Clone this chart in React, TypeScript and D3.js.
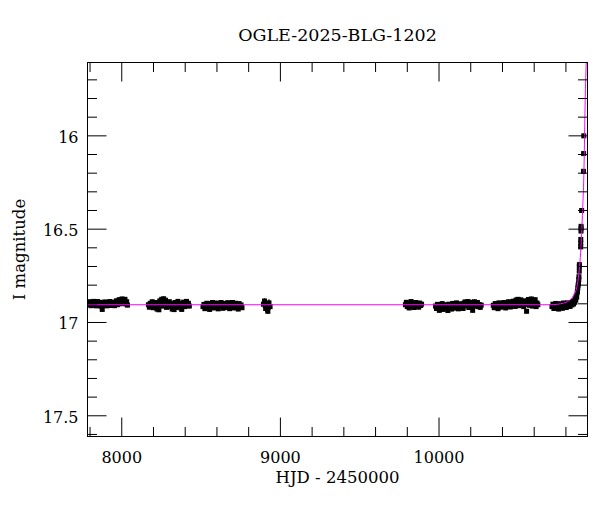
import React from "react";
import * as d3 from "d3";

// ---- data (HJD - 2450000, I mag, error) ----
const season2017: number[][] = [
  [7790,16.897],[7796,16.905],[7801,16.889],[7806,16.91],[7812,16.893],[7818,16.902],[7823,16.887],[7829,16.908],
  [7835,16.896],[7841,16.911],[7847,16.888],[7853,16.9],[7859,16.906],[7865,16.892],[7871,16.913],[7877,16.93],
  [7882,16.899],[7888,16.908],[7894,16.89],[7900,16.903],[7906,16.911],[7912,16.894],[7918,16.904],[7924,16.888],
  [7930,16.909],[7936,16.897],[7942,16.902],[7948,16.891],[7954,16.91],[7960,16.896],[7966,16.884],[7972,16.905],
  [7978,16.893],[7984,16.878],[7990,16.9],[7996,16.886],[8002,16.874],[8008,16.897],[8014,16.882],[8020,16.876],
  [8026,16.901],[8031,16.889],[8036,16.907],
];
const season2018: number[][] = [
  [8168,16.905],[8174,16.918],[8180,16.897],[8186,16.91],[8192,16.889],[8198,16.921],[8204,16.902],[8210,16.914],
  [8216,16.893],[8222,16.928],[8228,16.906],[8234,16.932],[8240,16.884],[8246,16.899],[8252,16.876],[8258,16.912],
  [8264,16.873],[8270,16.903],[8276,16.881],[8282,16.919],[8288,16.895],[8294,16.907],[8300,16.889],[8306,16.916],
  [8312,16.899],[8318,16.928],[8324,16.905],[8330,16.931],[8336,16.893],[8342,16.92],[8348,16.902],[8354,16.887],
  [8360,16.913],[8366,16.897],[8372,16.922],[8378,16.93],[8384,16.903],[8390,16.891],[8396,16.915],[8402,16.9],
  [8408,16.887],[8414,16.91],[8420,16.897],[8426,16.912],
];
const season2019: number[][] = [
  [8512,16.915],[8518,16.903],[8524,16.926],[8530,16.909],[8536,16.897],[8542,16.921],[8548,16.905],[8554,16.93],
  [8560,16.899],[8566,16.914],[8572,16.893],[8578,16.922],[8584,16.906],[8590,16.918],[8596,16.896],[8602,16.911],
  [8608,16.927],[8614,16.901],[8620,16.915],[8626,16.893],[8632,16.909],[8638,16.924],[8644,16.898],[8650,16.913],
  [8656,16.903],[8662,16.92],[8668,16.894],[8674,16.91],[8680,16.926],[8686,16.9],[8692,16.916],[8698,16.893],
  [8704,16.908],[8710,16.922],[8716,16.897],[8722,16.913],[8728,16.905],[8734,16.928],[8740,16.899],[8746,16.915],
  [8752,16.906],[8758,16.921],
];
const season2020: number[][] = [
  [8893,16.902,0.02],[8900,16.885,0.015],[8907,16.925,0.02],[8914,16.91,0.018],[8921,16.94,0.015],[8928,16.895,0.02],[8935,16.915,0.018],
];
const season2022: number[][] = [
  [9788,16.905],[9794,16.892],[9800,16.915],[9806,16.899],[9812,16.922],[9818,16.902],[9824,16.888],[9830,16.911],
  [9836,16.897],[9842,16.92],[9848,16.904],[9854,16.893],[9860,16.914],[9866,16.9],[9872,16.918],[9878,16.896],
  [9884,16.909],[9890,16.902],
];
const season2023: number[][] = [
  [9978,16.912],[9984,16.925],[9990,16.903],[9996,16.918],[10002,16.935],[10008,16.908],[10014,16.921],[10020,16.899],
  [10026,16.93],[10032,16.911],[10038,16.924],[10044,16.905],[10050,16.917],[10056,16.936],[10062,16.902],[10068,16.92],
  [10074,16.909],[10080,16.928],[10086,16.898],[10092,16.915],[10098,16.906],[10104,16.923],[10110,16.895],[10116,16.912],
  [10122,16.927],[10128,16.903],[10134,16.918],[10140,16.9],[10146,16.914],[10152,16.925],[10158,16.897],[10164,16.89],
  [10170,16.911],[10176,16.902],[10182,16.888],[10188,16.92],[10194,16.905],[10200,16.892],[10206,16.916],[10212,16.935],
  [10218,16.9],[10224,16.889],[10230,16.912],[10236,16.898],[10242,16.893],[10248,16.915],[10254,16.904],[10260,16.919],
  [10266,16.907],
];
const season2024: number[][] = [
  [10342,16.908],[10348,16.921],[10354,16.899],[10360,16.914],[10366,16.903],[10372,16.926],[10378,16.895],[10384,16.911],
  [10390,16.918],[10396,16.9],[10402,16.913],[10408,16.893],[10414,16.906],[10420,16.922],[10426,16.897],[10432,16.91],
  [10438,16.889],[10444,16.904],[10450,16.917],[10456,16.895],[10462,16.908],[10468,16.886],[10474,16.901],[10480,16.914],
  [10486,16.88],[10492,16.897],[10498,16.876],[10504,16.91],[10510,16.892],[10516,16.879],[10522,16.905],[10528,16.889],
  [10534,16.915],[10540,16.899],[10546,16.884],[10552,16.94],[10558,16.903],[10564,16.877],[10570,16.908],[10576,16.893],
  [10582,16.874],[10588,16.912],[10594,16.887],[10600,16.901],[10606,16.878],[10612,16.915],[10618,16.896],[10623,16.905],
];
const season2025: number[][] = [
  [10712,16.915],[10718,16.902],[10724,16.925],[10730,16.91],[10736,16.898],[10742,16.921],[10748,16.906],[10754,16.928],
  [10760,16.9],[10766,16.917],[10772,16.908],[10778,16.924],[10784,16.896],[10790,16.913],[10796,16.903],[10802,16.92],
  [10808,16.895],[10814,16.911],[10820,16.899],[10826,16.914],[10832,16.893],[10838,16.906],[10844,16.888],[10848,16.901],
  [10852,16.884],[10856,16.892],[10859,16.872],[10862,16.88],[10865,16.858],[10868,16.864],[10871,16.84],[10873,16.832],
  [10875,16.815],[10877,16.8],[10879,16.79],[10881,16.77],[10882,16.755],[10884,16.725],[10884.5,16.7],[10885,16.69],
  [10893,16.595],[10893.3,16.575],[10893.6,16.555],[10895,16.51],[10895.3,16.495],[10895.6,16.485],[10899,16.4],
  [10910.5,16.19],[10911.5,16.095],[10912.5,16.0],
];

// model light curve
const modelCurve: number[][] = [
  [7784,16.905],[10700,16.905],[10750,16.902],[10785,16.896],[10810,16.888],[10838,16.869],[10855,16.845],
  [10870,16.807],[10878,16.765],[10886,16.7],[10895,16.593],[10905,16.4],[10913.6,16.19],[10917.5,16.0],
  [10921.6,15.8],[10927.7,15.61],[10933,15.4],
];

const xMajorTicks = [8000, 9000, 10000];
const xMinorTicks = [7800, 8200, 8400, 8600, 8800, 9200, 9400, 9600, 9800, 10200, 10400, 10600, 10800];
const yMajorTicks = [16, 16.5, 17, 17.5];
const yMinorTicks = [15.7, 15.8, 15.9, 16.1, 16.2, 16.3, 16.4, 16.6, 16.7, 16.8, 16.9, 17.1, 17.2, 17.3, 17.4, 17.6];

const title = "OGLE-2025-BLG-1202";
const xLabel = "HJD - 2450000";
const yLabel = "I magnitude";

const W = 600, H = 512;
const L = 87.5, R = 587.5, T = 62.5, B = 436.5;
const FONT = "'DejaVu Serif', serif";

export default function App() {
  const x = d3.scaleLinear().domain([7784, 10936]).range([L, R]);
  const y = d3.scaleLinear().domain([15.607, 17.611]).range([T, B]);
  const allPts = [season2017, season2018, season2019, season2020, season2022, season2023, season2024, season2025].flat();
  const line = d3.line<number[]>().x((d) => x(d[0])).y((d) => y(d[1])).curve(d3.curveMonotoneX);
  const MJ = 19, MN = 9.5, S = 5;
  return (
    <svg width={W} height={H} style={{ position: "absolute", left: 0, top: 0, background: "#fff" }}>
      <defs>
        <clipPath id="plotclip">
          <rect x={L} y={T} width={R - L} height={B - T} />
        </clipPath>
      </defs>
      <g clipPath="url(#plotclip)">
        {allPts.map((d, i) => {
          const e = d[2] ?? 0.012;
          const cx = x(d[0]);
          return (
            <g key={i}>
              <line x1={cx} x2={cx} y1={y(d[1] - e)} y2={y(d[1] + e)} stroke="#000" strokeWidth={1.2} />
              <rect x={cx - S / 2} y={y(d[1]) - S / 2} width={S} height={S} fill="#000" />
            </g>
          );
        })}
        <path d={line(modelCurve) || ""} fill="none" stroke="#ff00ff" strokeWidth={1} />
      </g>
      {/* ticks */}
      <g stroke="#000" strokeWidth={1}>
        {xMajorTicks.map((v) => (
          <g key={"xM" + v}>
            <line x1={x(v)} x2={x(v)} y1={B} y2={B - MJ} />
            <line x1={x(v)} x2={x(v)} y1={T} y2={T + MJ} />
          </g>
        ))}
        {xMinorTicks.map((v) => (
          <g key={"xm" + v}>
            <line x1={x(v)} x2={x(v)} y1={B} y2={B - MN} />
            <line x1={x(v)} x2={x(v)} y1={T} y2={T + MN} />
          </g>
        ))}
        {yMajorTicks.map((v) => (
          <g key={"yM" + v}>
            <line x1={L} x2={L + MJ} y1={y(v)} y2={y(v)} />
            <line x1={R} x2={R - MJ} y1={y(v)} y2={y(v)} />
          </g>
        ))}
        {yMinorTicks.map((v) => (
          <g key={"ym" + v}>
            <line x1={L} x2={L + MN} y1={y(v)} y2={y(v)} />
            <line x1={R} x2={R - MN} y1={y(v)} y2={y(v)} />
          </g>
        ))}
      </g>
      <rect x={L} y={T} width={R - L} height={B - T} fill="none" stroke="#000" strokeWidth={1} />
      {/* labels */}
      <g fontFamily={FONT} fontSize={16} fill="#000">
        {xMajorTicks.map((v) => (
          <text key={"xl" + v} x={x(v)} y={B + 26.5} textAnchor="middle">{String(v)}</text>
        ))}
        {yMajorTicks.map((v) => (
          <text key={"yl" + v} x={78.5} y={y(v) + 7} textAnchor="end">{String(v)}</text>
        ))}
      </g>
      <text x={(L + R) / 2} y={40.5} textAnchor="middle" fontFamily={FONT} fontSize={17.5}>{title}</text>
      <text x={(L + R) / 2} y={482.5} textAnchor="middle" fontFamily={FONT} fontSize={16.5}>{xLabel}</text>
      <text transform={`translate(24.5, ${(T + B) / 2}) rotate(-90)`} textAnchor="middle" fontFamily={FONT} fontSize={16.5}>{yLabel}</text>
    </svg>
  );
}
